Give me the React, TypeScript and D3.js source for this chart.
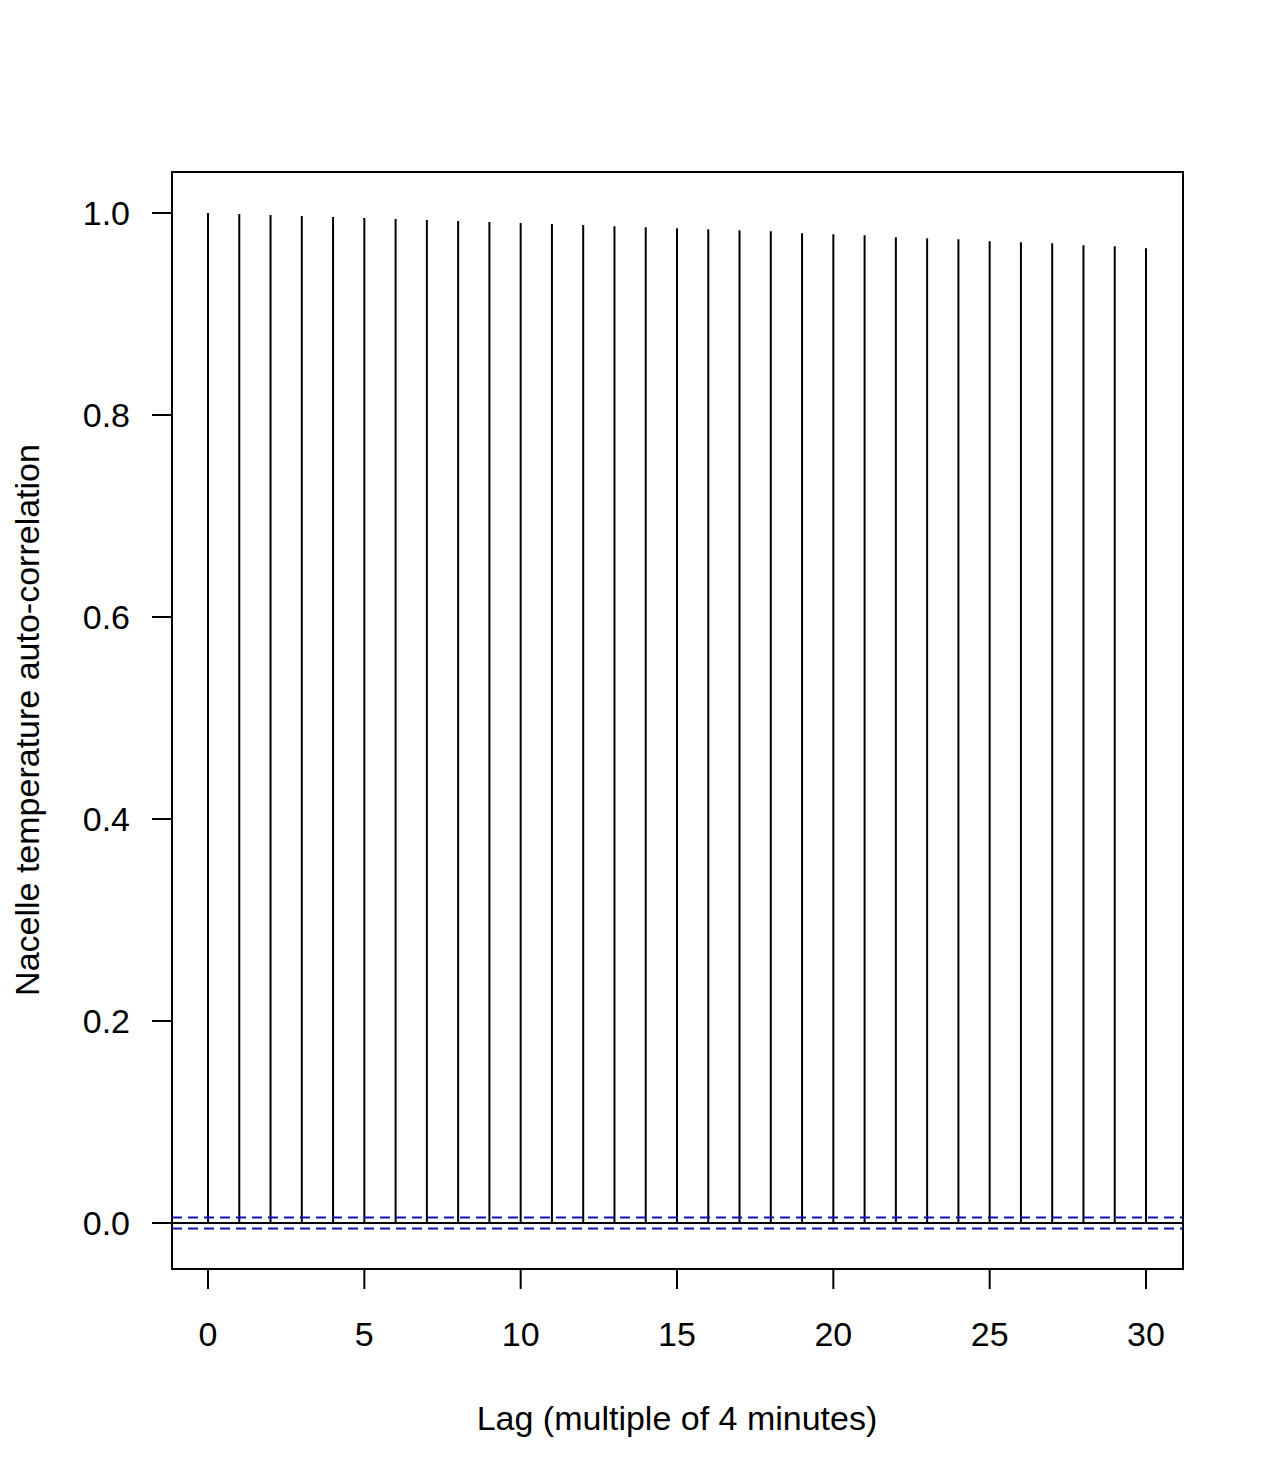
import React, { useEffect, useRef } from 'react';
import * as d3 from 'd3';

// acf values, lag 0..30
const lags = d3.range(0, 31);
const acfValues = [
    1.000, 0.999, 0.998, 0.997, 0.996, 0.995, 0.994, 0.993, 0.992, 0.991,
    0.990, 0.989, 0.988, 0.987, 0.986, 0.985, 0.984, 0.983, 0.982, 0.980,
    0.979, 0.978, 0.976, 0.975, 0.974, 0.972, 0.971, 0.970, 0.968, 0.967,
    0.965
];
const ciLimit = 0.0055;
const xTicks = [0, 5, 10, 15, 20, 25, 30];
const yTicks = [0, 0.2, 0.4, 0.6, 0.8, 1.0];

const App = () => {
    const svgRef = useRef<SVGSVGElement>(null);

    useEffect(() => {
        const width = 1272,
              height = 1484,
              box = { left: 172, right: 1183, top: 172, bottom: 1269 },
              font = '"Liberation Sans", Arial, sans-serif',
              fontSize = '34px';

        const svg = d3.select(svgRef.current);
        svg.selectAll('*').remove();
        svg.attr('width', width).attr('height', height);

        const x = d3.scaleLinear().domain([0, 30]).range([208, 1146]);
        const y = d3.scaleLinear().domain([0, 1]).range([1223, 213]);

        svg.append('rect')
            .attr('width', width)
            .attr('height', height)
            .attr('fill', '#fff');

        // spikes
        svg.append('g')
            .attr('stroke', '#000')
            .attr('stroke-width', 2)
            .selectAll('line')
            .data(lags)
            .enter()
            .append('line')
            .attr('x1', d => x(d))
            .attr('x2', d => x(d))
            .attr('y1', y(0))
            .attr('y2', d => y(acfValues[d]));

        // zero line
        svg.append('line')
            .attr('x1', box.left).attr('x2', box.right)
            .attr('y1', y(0)).attr('y2', y(0))
            .attr('stroke', '#000')
            .attr('stroke-width', 2);

        // confidence limits
        svg.append('g')
            .attr('stroke', '#1010c0')
            .attr('stroke-width', 2)
            .attr('stroke-dasharray', '10,6')
            .selectAll('line')
            .data([ciLimit, -ciLimit])
            .enter()
            .append('line')
            .attr('x1', box.left).attr('x2', box.right)
            .attr('y1', d => y(d)).attr('y2', d => y(d));

        // frame
        svg.append('rect')
            .attr('x', box.left)
            .attr('y', box.top)
            .attr('width', box.right - box.left)
            .attr('height', box.bottom - box.top)
            .attr('fill', 'none')
            .attr('stroke', '#000')
            .attr('stroke-width', 2);

        // x axis
        const xAxis = svg.append('g');
        xTicks.forEach(t => {
            xAxis.append('line')
                .attr('x1', x(t)).attr('x2', x(t))
                .attr('y1', box.bottom).attr('y2', box.bottom + 20)
                .attr('stroke', '#000')
                .attr('stroke-width', 2);
            xAxis.append('text')
                .attr('x', x(t))
                .attr('y', 1346)
                .attr('text-anchor', 'middle')
                .style('font-family', font)
                .style('font-size', fontSize)
                .text(t);
        });

        // y axis
        const yAxis = svg.append('g');
        yTicks.forEach(t => {
            yAxis.append('line')
                .attr('x1', box.left - 20).attr('x2', box.left)
                .attr('y1', y(t)).attr('y2', y(t))
                .attr('stroke', '#000')
                .attr('stroke-width', 2);
            yAxis.append('text')
                .attr('x', 130)
                .attr('y', y(t) + 12)
                .attr('text-anchor', 'end')
                .style('font-family', font)
                .style('font-size', fontSize)
                .text(t.toFixed(1));
        });

        // titles
        svg.append('text')
            .attr('x', 677)
            .attr('y', 1430)
            .attr('text-anchor', 'middle')
            .style('font-family', font)
            .style('font-size', fontSize)
            .text('Lag (multiple of 4 minutes)');

        svg.append('text')
            .attr('transform', 'translate(39,720) rotate(-90)')
            .attr('text-anchor', 'middle')
            .style('font-family', font)
            .style('font-size', fontSize)
            .text('Nacelle temperature auto-correlation');
    }, []);

    return (
        <svg ref={svgRef} style={{ position: 'absolute', left: 0, top: 0 }}></svg>
    );
};

export default App;
